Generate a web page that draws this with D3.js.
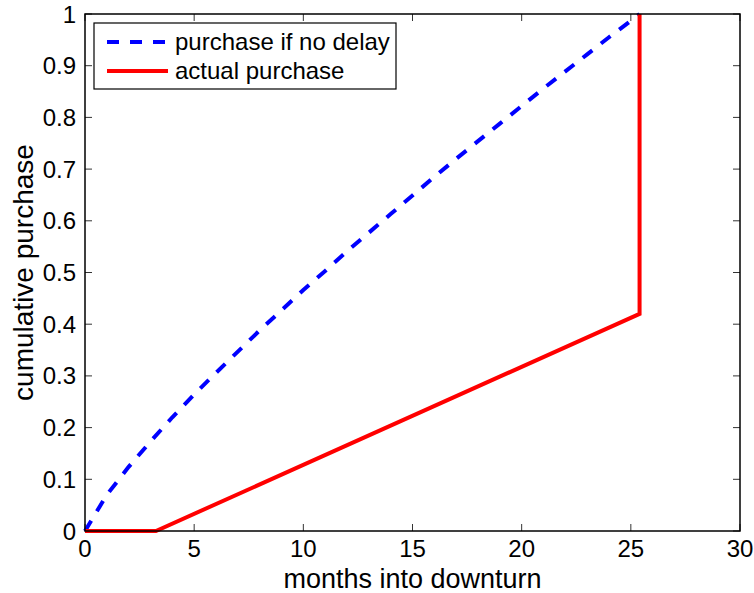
<!DOCTYPE html>
<html><head><meta charset="utf-8">
<script src="https://cdn.jsdelivr.net/npm/d3@7"></script>
<style>body{margin:0;background:#fff}svg{display:block}text{font-family:"Liberation Sans",Arial,sans-serif;fill:#000}</style>
</head><body>
<script>
const xTicks = [0,5,10,15,20,25,30];
const yTicks = [0,0.1,0.2,0.3,0.4,0.5,0.6,0.7,0.8,0.9,1];
const yTickLabels = ["0","0.1","0.2","0.3","0.4","0.5","0.6","0.7","0.8","0.9","1"];
const noDelayMonths = [0,1,2,3,4,5,6,7,8,9,10,11,12,13,14,15,16,17,18,19,20,21,22,23,24,25,25.4];
const noDelayValues = [0,0.07,0.124,0.173,0.22,0.264,0.306,0.347,0.388,0.427,0.466,0.503,0.541,0.577,0.613,0.649,0.685,0.72,0.754,0.788,0.822,0.856,0.889,0.922,0.955,0.987,1];
const actualMonths = [0,3.25,25.4,25.4];
const actualValues = [0,0,0.42,1];
const legendLabels = ["purchase if no delay","actual purchase"];

const W=754,H=593, L=85,R=740,T=14,B=531;
const svg=d3.select("body").append("svg").attr("width",W).attr("height",H);
const x=d3.scaleLinear().domain([0,30]).range([L,R]);
const y=d3.scaleLinear().domain([0,1]).range([B,T]);

const tk=7;
const g=svg.append("g").attr("stroke","#333").attr("stroke-width",1);
xTicks.forEach(v=>{
  g.append("line").attr("x1",x(v)).attr("x2",x(v)).attr("y1",B).attr("y2",B-tk);
  g.append("line").attr("x1",x(v)).attr("x2",x(v)).attr("y1",T).attr("y2",T+tk);
});
yTicks.forEach(v=>{
  g.append("line").attr("y1",y(v)).attr("y2",y(v)).attr("x1",L).attr("x2",L+tk);
  g.append("line").attr("y1",y(v)).attr("y2",y(v)).attr("x1",R).attr("x2",R-tk);
});
xTicks.forEach(v=>svg.append("text").attr("x",x(v)).attr("y",557).attr("text-anchor","middle").attr("font-size",24).text(v));
yTicks.forEach((v,i)=>svg.append("text").attr("x",76).attr("y",y(v)+8.5).attr("text-anchor","end").attr("font-size",24).text(yTickLabels[i]));

svg.append("text").attr("x",(L+R)/2).attr("y",588).attr("text-anchor","middle").attr("font-size",27).text("months into downturn");
svg.append("text").attr("transform",`translate(33,${(T+B)/2}) rotate(-90)`).attr("text-anchor","middle").attr("font-size",28).text("cumulative purchase");

const line=d3.line().x(d=>x(d[0])).y(d=>y(d[1]));
svg.append("path").datum(noDelayMonths.map((m,i)=>[m,noDelayValues[i]]))
  .attr("d",line).attr("fill","none").attr("stroke","#0000ff").attr("stroke-width",4).attr("stroke-dasharray","12,11");
svg.append("path").datum(actualMonths.map((m,i)=>[m,actualValues[i]]))
  .attr("d",line).attr("fill","none").attr("stroke","#ff0000").attr("stroke-width",4);

svg.append("rect").attr("x",L).attr("y",T).attr("width",R-L).attr("height",B-T).attr("fill","none").attr("stroke","#000").attr("stroke-width",1.5);

const lg=svg.append("g");
lg.append("rect").attr("x",94).attr("y",23).attr("width",302).attr("height",66).attr("fill","#fff").attr("stroke","#000").attr("stroke-width",1.2);
lg.append("line").attr("x1",107).attr("x2",168).attr("y1",42).attr("y2",42).attr("stroke","#0000ff").attr("stroke-width",4).attr("stroke-dasharray","12,11");
lg.append("line").attr("x1",107).attr("x2",168).attr("y1",71).attr("y2",71).attr("stroke","#ff0000").attr("stroke-width",4);
lg.append("text").attr("x",175).attr("y",50).attr("font-size",24).text(legendLabels[0]);
lg.append("text").attr("x",175).attr("y",79).attr("font-size",24).text(legendLabels[1]);
</script>
</body></html>
